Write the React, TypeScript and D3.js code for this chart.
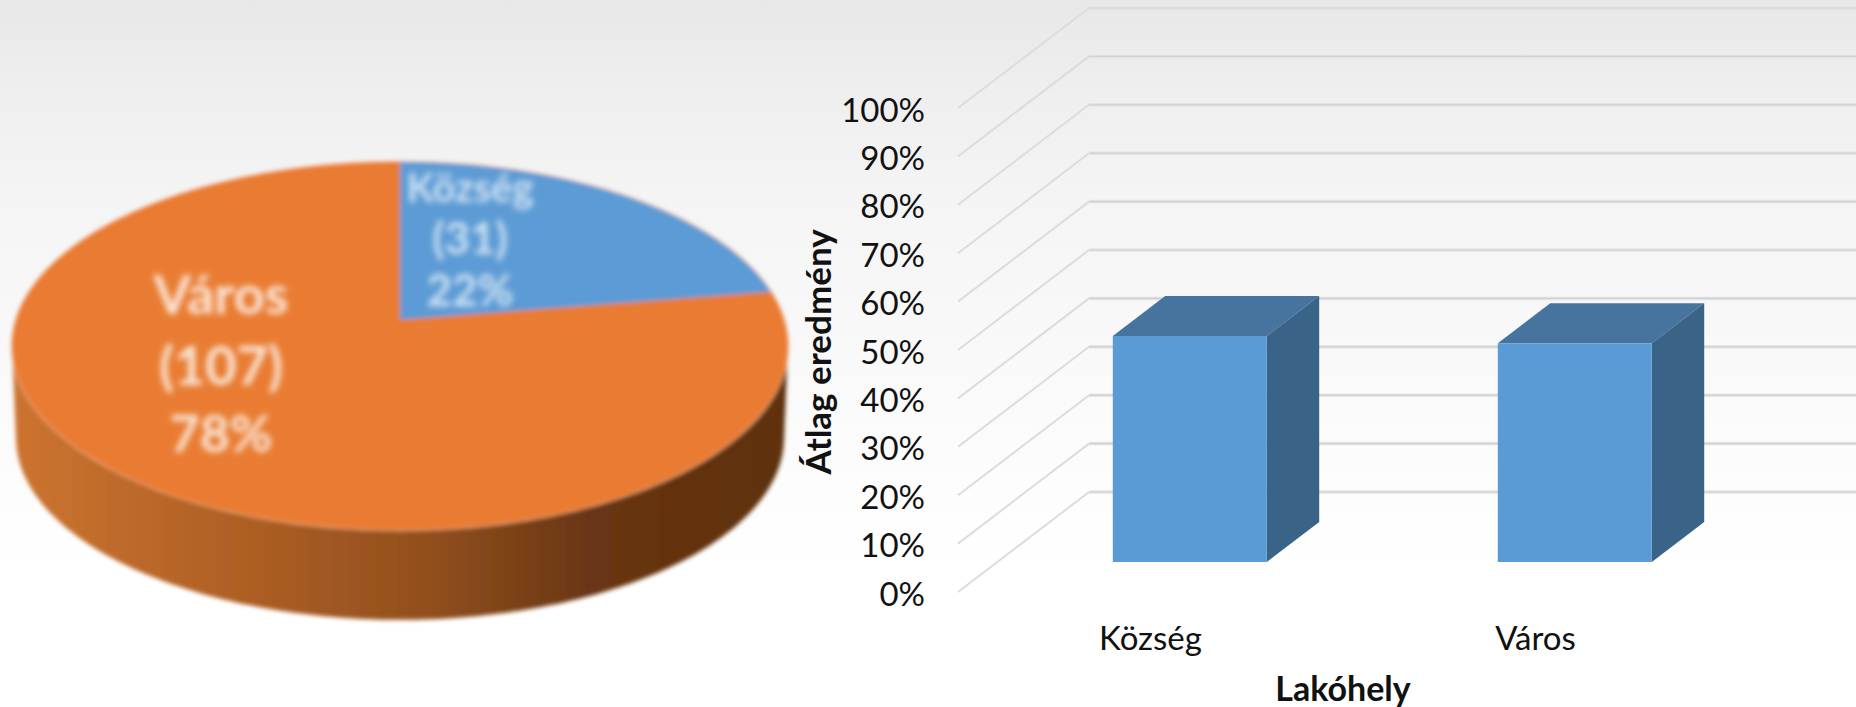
import React from "react";
import * as d3 from "d3";

const pieLabels = ["Község", "Város"];
const pieCounts = [31, 107];
const piePercents = ["22%", "78%"];
const pieColors = ["#5b9bd5", "#e97c30"];
const barCategories = ["Község", "Város"];
const barValues = [0.467, 0.452];
const tickValues = [0, 0.1, 0.2, 0.3, 0.4, 0.5, 0.6, 0.7, 0.8, 0.9, 1];

const W = 1856, H = 707;
const FONT = "Lato, Carlito, sans-serif";

// 3D bar chart: oblique projection
const y = d3.scaleLinear().domain([0, 1]).range([592, 108]);
const depthX = d3.scaleLinear().domain([0, 1]).range([0, 131]);
const depthY = d3.scaleLinear().domain([0, 1]).range([0, -100]);
const xBand = d3.scaleBand<string>().domain(barCategories).range([958, 1728]).paddingInner(0.6).paddingOuter(0.3);
const fmt = d3.format(".0%");
const P = (x: number, v: number, t: number): [number, number] => [x + depthX(t), y(v) + depthY(t)];
const poly = (pts: [number, number][]) => d3.line()(pts) + "Z";

// Pie: perspective disc
const K = 0.141, RX = 384, RY = 180.3, CX = 400, CY = 320, THICK = 92;
const disc = (a: number, scale = 1, dy = 0): [number, number] => {
  const u = Math.sin(a), v = Math.cos(a), w = 1 + K * v;
  return [CX + (scale * RX * u) / w, CY + dy - (scale * RY * v) / w];
};
const arcs = d3.pie<number>().sort(null)(pieCounts);
const sample = (a0: number, a1: number, n = 180) => d3.range(n + 1).map((i) => a0 + ((a1 - a0) * i) / n);
const slicePath = (a0: number, a1: number) => d3.line()([[CX, CY], ...sample(a0, a1).map((a) => disc(a))]) + "Z";
const topDisc = sample(0, 2 * Math.PI, 360).map((a) => disc(a));
const botDisc = sample(0, 2 * Math.PI, 360).map((a) => disc(a, 0.99, THICK));
const sideHull = d3.polygonHull([...topDisc, ...botDisc]) as [number, number][];

const pieTextPos = [
  { x: 470, lines: [202, 254, 306], sizes: [40, 44, 44], opacity: 0.72 },
  { x: 221, lines: [314, 385, 452], sizes: [54, 54, 52], opacity: 0.82 },
];

export default function App() {
  return (
    <svg width={W} height={H} viewBox={`0 0 ${W} ${H}`} style={{ position: "absolute", left: 0, top: 0, display: "block" }}>
      <defs>
        <linearGradient id="bg" x1="0" y1="0" x2="0" y2="1">
          <stop offset="0" stopColor="#e8e8e8" />
          <stop offset="0.14" stopColor="#efefef" />
          <stop offset="0.3" stopColor="#f5f5f5" />
          <stop offset="0.55" stopColor="#fafafa" />
          <stop offset="0.8" stopColor="#ffffff" />
          <stop offset="1" stopColor="#ffffff" />
        </linearGradient>
        <linearGradient id="side" x1="0" y1="0" x2="1" y2="0">
          <stop offset="0" stopColor="#cc7430" />
          <stop offset="0.3" stopColor="#ae5f24" />
          <stop offset="0.55" stopColor="#8f4e1d" />
          <stop offset="0.75" stopColor="#683512" />
          <stop offset="1" stopColor="#5e310f" />
        </linearGradient>
        <filter id="pieBlur" x="-5%" y="-5%" width="110%" height="110%">
          <feGaussianBlur stdDeviation="2" />
        </filter>
        <filter id="textBlur" x="-20%" y="-20%" width="140%" height="140%">
          <feGaussianBlur stdDeviation="3" />
        </filter>
      </defs>
      <rect width={W} height={H} fill="url(#bg)" />

      {/* pie */}
      <g filter="url(#pieBlur)">
        <path d={poly(sideHull)} fill="url(#side)" />
        <path d={poly(topDisc)} fill={pieColors[1]} stroke="#f2b48a" strokeWidth={2} />
        {arcs.map((a, i) => (
          <path key={i} d={slicePath(a.startAngle, a.endAngle)} fill={pieColors[i]} />
        ))}
      </g>
      <g filter="url(#textBlur)" fill="#ffffff" fontFamily={FONT} fontWeight={700} textAnchor="middle">
        {pieLabels.map((lab, i) => {
          const pos = pieTextPos[i];
          const rows = [lab, `(${pieCounts[i]})`, piePercents[i]];
          return rows.map((r, j) => (
            <text key={`${i}-${j}`} x={pos.x} y={pos.lines[j]} fontSize={pos.sizes[j]} fillOpacity={pos.opacity}>
              {r}
            </text>
          ));
        })}
      </g>

      {/* grid */}
      {tickValues.map((v) => {
        const a = P(958, v, 0), b = P(958, v, 1);
        return (
          <g key={v} fill="none">
            <line x1={a[0]} y1={a[1]} x2={b[0]} y2={b[1]} stroke="#dcdcdc" strokeWidth={2} />
            <line x1={b[0]} y1={b[1]} x2={W} y2={b[1]} stroke="#e4e4e4" strokeWidth={3.5} />
            <line x1={b[0]} y1={b[1]} x2={W} y2={b[1]} stroke="#d0d0d0" strokeWidth={1.2} />
          </g>
        );
      })}

      {/* bars */}
      {barCategories.map((c, i) => {
        const x0 = xBand(c)!, x1 = x0 + xBand.bandwidth(), v = barValues[i];
        const t0 = 0.3, t1 = 0.7;
        return (
          <g key={c}>
            <path d={poly([P(x0, v, t0), P(x1, v, t0), P(x1, v, t1), P(x0, v, t1)])} fill="#46749f" />
            <path d={poly([P(x1, 0, t0), P(x1, v, t0), P(x1, v, t1), P(x1, 0, t1)])} fill="#3a6487" />
            <path d={poly([P(x0, 0, t0), P(x1, 0, t0), P(x1, v, t0), P(x0, v, t0)])} fill="#5b9bd5" />
          </g>
        );
      })}

      {/* axis text */}
      {tickValues.map((v) => (
        <text key={v} x={925} y={y(v) + 13.5} textAnchor="end" fontFamily={FONT} fontSize={33} fill="#111">
          {fmt(v)}
        </text>
      ))}
      {barCategories.map((c) => (
        <text key={c} x={xBand(c)! + xBand.bandwidth() / 2} y={650} textAnchor="middle" fontFamily={FONT} fontSize={33} fill="#111">
          {c}
        </text>
      ))}
      <text x={1343} y={701} textAnchor="middle" fontFamily={FONT} fontSize={34} fontWeight={700} fill="#111">
        Lakóhely
      </text>
      <text transform="translate(831,352) rotate(-90)" textAnchor="middle" fontFamily={FONT} fontSize={35} fontWeight={700} fill="#111">
        Átlag eredmény
      </text>
    </svg>
  );
}
